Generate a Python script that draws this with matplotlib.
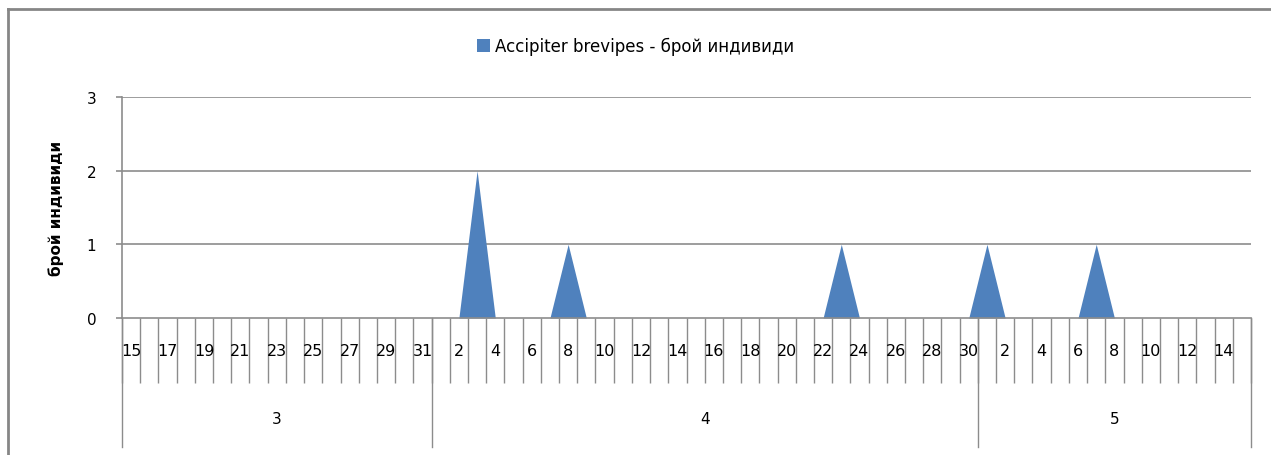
import numpy as np
import matplotlib.pyplot as plt
from matplotlib.lines import Line2D

# months and the days shown for each
months = ["3", "4", "5"]
month_days = [list(range(15, 32)), list(range(1, 31)), list(range(1, 16))]

# non-zero counts: (month, day) -> individuals
counts = {("4", 3): 2, ("4", 8): 1, ("4", 23): 1, ("5", 1): 1, ("5", 7): 1}

series_name = "Accipiter brevipes - брой индивиди"
y_label = "брой индивиди"

day_labels = []
values = []
for m, days in zip(months, month_days):
    for d in days:
        day_labels.append(str(d))
        values.append(counts.get((m, d), 0))
values = np.array(values)
x = np.arange(len(values))
n = len(values)

W, H = 1271, 456
fig = plt.figure(figsize=(W / 100, H / 100), dpi=100)
left, right, top, bottom = 122, 1251, 98, 319
ax = fig.add_axes([left / W, (H - bottom) / H, (right - left) / W, (bottom - top) / H])

blue = "#4F81BD"
grey = "#8C8C8C"

ax.fill_between(x, values, 0, color=blue, linewidth=0, label=series_name)

ax.set_xlim(-0.5, n - 0.5)
ax.set_ylim(0, 3)
ax.set_yticks([0, 1, 2, 3])
for yv in [1, 2, 3]:
    ax.axhline(yv, color=grey, lw=1.2, zorder=0)

for s in ["top", "right"]:
    ax.spines[s].set_visible(False)
for s in ["left", "bottom"]:
    ax.spines[s].set_color(grey)
    ax.spines[s].set_linewidth(1.2)

ax.tick_params(axis="y", length=4.5, color=grey, width=1.2, labelsize=11, pad=14)

# day separators as major ticks, labels as minor ticks at centres
ax.set_xticks(np.arange(n + 1) - 0.5)
ax.set_xticklabels([])
ax.tick_params(axis="x", which="major", length=47, color=grey, width=1.0)
ax.set_xticks(x[::2], minor=True)
ax.set_xticklabels(day_labels[::2], minor=True)
ax.tick_params(axis="x", which="minor", length=0, labelsize=11.5, pad=18)

ax.set_ylabel(y_label, fontsize=11, fontweight="bold", labelpad=16)

# month level of the axis
trans = ax.get_xaxis_transform()
h = bottom - top
edges = np.concatenate([[0], np.cumsum([len(d) for d in month_days])]) - 0.5
for e in edges:
    ax.plot([e, e], [0, -(448 - bottom) / h], color=grey, lw=1.0,
            transform=trans, clip_on=False)
for i, m in enumerate(months):
    ax.text((edges[i] + edges[i + 1]) / 2, -(420 - bottom) / h, m,
            transform=trans, ha="center", va="center", fontsize=11)

fig.legend(loc="center", bbox_to_anchor=(0.5, (H - 47) / H), frameon=False,
           fontsize=12, handlelength=0.8, handleheight=0.8, handletextpad=0.3)

# chart area border (top and left edges visible)
fig.add_artist(Line2D([8 / W, 8 / W], [0, (H - 10) / H], color="#868686", lw=2))
fig.add_artist(Line2D([8 / W, 1], [(H - 10) / H, (H - 10) / H], color="#868686", lw=2))

fig.savefig("out.png", dpi=100)
